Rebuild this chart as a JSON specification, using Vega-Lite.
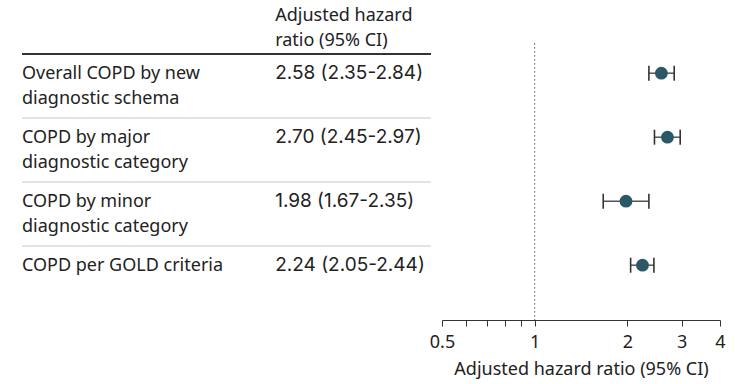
{
  "$schema": "https://vega.github.io/schema/vega-lite/v6.json",
  "width": 743,
  "height": 320,
  "autosize": "none",
  "padding": {"left": 0, "top": 0, "right": 0, "bottom": 64},
  "background": "white",
  "config": {"view": {"stroke": null}, "font": "Noto Sans"},
  "data": {"values": [
    {"row": "r1", "label": "Overall COPD by new\ndiagnostic schema", "est": 2.58, "lo": 2.35, "hi": 2.84, "ci": "2.58 (2.35-2.84)"},
    {"row": "r2", "label": "COPD by major\ndiagnostic category", "est": 2.70, "lo": 2.45, "hi": 2.97, "ci": "2.70 (2.45-2.97)"},
    {"row": "r3", "label": "COPD by minor\ndiagnostic category", "est": 1.98, "lo": 1.67, "hi": 2.35, "ci": "1.98 (1.67-2.35)"},
    {"row": "r4", "label": "COPD per GOLD criteria", "est": 2.24, "lo": 2.05, "hi": 2.44, "ci": "2.24 (2.05-2.44)"}
  ]},
  "encoding": {
    "y": {"field": "row", "type": "nominal", "axis": null,
      "scale": {"type": "band", "domain": ["h", "r1", "r2", "r3", "r4"], "range": [-10, 310], "paddingInner": 0, "paddingOuter": 0}}
  },
  "layer": [
    {
      "encoding": {
        "x": {"type": "quantitative", "axis": null, "scale": {"domain": [0, 1], "range": [22, 431], "nice": false, "zero": false}}
      },
      "layer": [
        {
          "mark": {"type": "text", "align": "left", "baseline": "top", "dy": -8, "lineBreak": "\n", "lineHeight": 25, "fontSize": 18, "color": "#222"},
          "encoding": {
            "x": {"datum": 0},
            "y": {"field": "row", "type": "nominal", "bandPosition": 0.3},
            "text": {"field": "label"}
          }
        },
        {
          "mark": {"type": "text", "align": "left", "baseline": "top", "dy": -9, "fontSize": 19, "font": "Inter", "color": "#222"},
          "encoding": {
            "x": {"datum": 0.619},
            "y": {"field": "row", "type": "nominal", "bandPosition": 0.3},
            "text": {"field": "ci"}
          }
        },
        {
          "data": {"values": [{"h": "Adjusted hazard ratio (95% CI)"}]},
          "mark": {"type": "text", "align": "left", "baseline": "top", "dy": -8, "lineHeight": 25, "fontSize": 18, "color": "#222"},
          "encoding": {
            "x": {"datum": 0.619},
            "y": {"datum": "h", "bandPosition": 0.39},
            "text": {"value": ["Adjusted hazard", "ratio (95% CI)"]}
          }
        },
        {
          "data": {"values": [{"row": "r1"}]},
          "mark": {"type": "rule", "color": "#333", "strokeWidth": 2},
          "encoding": {
            "x": {"datum": 0},
            "x2": {"datum": 1},
            "y": {"field": "row", "type": "nominal", "bandPosition": 0}
          }
        },
        {
          "transform": [{"filter": "datum.row != 'r1'"}],
          "mark": {"type": "rule", "color": "#c8c8c8", "strokeWidth": 1},
          "encoding": {
            "x": {"datum": 0},
            "x2": {"datum": 1},
            "y": {"field": "row", "type": "nominal", "bandPosition": 0}
          }
        }
      ]
    },
    {
      "encoding": {
        "x": {"type": "quantitative",
          "scale": {"type": "log", "domain": [0.5, 4], "range": [442, 720], "nice": false},
          "axis": {"orient": "bottom", "values": [0.5, 0.6, 0.7, 0.8, 0.9, 1, 2, 3, 4],
            "labelExpr": "indexof([0.5,1,2,3,4], datum.value) >= 0 ? datum.label : ''",
            "format": "~g", "grid": false, "tickSize": 6, "tickColor": "#333", "domainColor": "#333",
            "labelFontSize": 18, "labelColor": "#222", "labelPadding": 7, "labelFlush": false,
            "title": "Adjusted hazard ratio (95% CI)", "titleFontSize": 18, "titleFontWeight": "normal", "titleColor": "#222", "titlePadding": 9}}
      },
      "layer": [
        {
          "data": {"values": [{"row": "h"}]},
          "mark": {"type": "rule", "color": "#555", "strokeWidth": 1, "strokeDash": [1.5, 2.5]},
          "encoding": {
            "x": {"datum": 1},
            "y": {"field": "row", "type": "nominal", "bandPosition": 0.83},
            "y2": {"value": {"expr": "height"}}
          }
        },
        {
          "mark": {"type": "rule", "color": "#555", "strokeWidth": 1.5},
          "encoding": {
            "x": {"field": "lo"},
            "x2": {"field": "hi"},
            "y": {"field": "row", "type": "nominal", "bandPosition": 0.3}
          }
        },
        {
          "mark": {"type": "point", "shape": "M0,-1V1", "filled": false, "opacity": 1, "size": 225, "strokeWidth": 1.6, "color": "#333"},
          "encoding": {
            "x": {"field": "lo"},
            "y": {"field": "row", "type": "nominal", "bandPosition": 0.3}
          }
        },
        {
          "mark": {"type": "point", "shape": "M0,-1V1", "filled": false, "opacity": 1, "size": 225, "strokeWidth": 1.6, "color": "#333"},
          "encoding": {
            "x": {"field": "hi"},
            "y": {"field": "row", "type": "nominal", "bandPosition": 0.3}
          }
        },
        {
          "mark": {"type": "point", "shape": "circle", "filled": true, "opacity": 1, "size": 165, "color": "#2a5866"},
          "encoding": {
            "x": {"field": "est"},
            "y": {"field": "row", "type": "nominal", "bandPosition": 0.3}
          }
        }
      ]
    }
  ],
  "resolve": {"scale": {"x": "independent"}, "axis": {"x": "independent"}}
}
